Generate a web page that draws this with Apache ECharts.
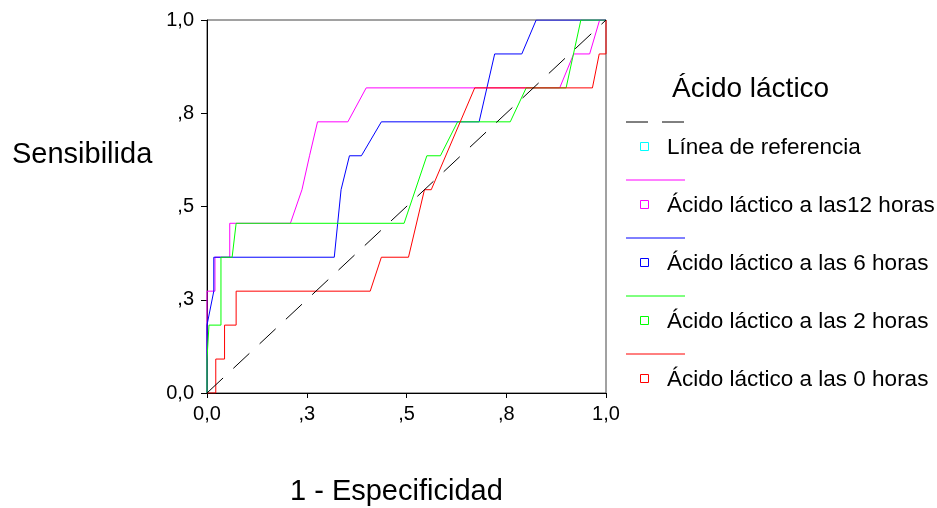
<!DOCTYPE html>
<html>
<head>
<meta charset="utf-8">
<title>Curva COR - Ácido láctico</title>
<script src="https://cdn.jsdelivr.net/npm/echarts@6/dist/echarts.min.js"></script>
<style>
  html, body { margin: 0; padding: 0; background: #fff; }
  #chart { width: 937px; height: 508px; }
</style>
</head>
<body>
<div id="chart"></div>
<script>
// etiquetas de los ejes (formato SPSS, 0,25 -> ",3")
const tickLabels = ['0,0', ',3', ',5', ',8', '1,0'];

// puntos de cada curva COR: x = 1 - especificidad, y = sensibilidad
const fpr12h = [0, 0, 0.02, 0.02, 0.057, 0.057, 0.209, 0.238, 0.257, 0.277, 0.353, 0.399, 0.884, 0.919, 0.959, 0.984, 1];
const tpr12h = [0, 0.273, 0.273, 0.364, 0.364, 0.455, 0.455, 0.545, 0.636, 0.727, 0.727, 0.818, 0.818, 0.909, 0.909, 1, 1];

const fpr6h = [0, 0, 0.017, 0.017, 0.319, 0.336, 0.357, 0.387, 0.437, 0.682, 0.721, 0.789, 0.825, 1];
const tpr6h = [0, 0.182, 0.273, 0.364, 0.364, 0.545, 0.636, 0.636, 0.727, 0.727, 0.909, 0.909, 1, 1];

const fpr2h = [0, 0, 0.005, 0.005, 0.035, 0.035, 0.063, 0.073, 0.494, 0.551, 0.585, 0.628, 0.760, 0.800, 0.900, 0.937, 1];
const tpr2h = [0, 0.091, 0.091, 0.182, 0.182, 0.364, 0.364, 0.455, 0.455, 0.636, 0.636, 0.727, 0.727, 0.818, 0.818, 1, 1];

const fpr0h = [0, 0.022, 0.022, 0.044, 0.044, 0.073, 0.073, 0.409, 0.437, 0.505, 0.545, 0.562, 0.671, 0.966, 0.983, 1, 1];
const tpr0h = [0, 0, 0.091, 0.091, 0.182, 0.182, 0.273, 0.273, 0.364, 0.364, 0.545, 0.545, 0.818, 0.818, 0.909, 0.909, 1];

// diagonal de referencia
const fprRef = [0, 1];
const tprRef = [0, 1];

const seriesNames = ['Línea de referencia', 'Ácido láctico a las12 horas', 'Ácido láctico a las 6 horas', 'Ácido láctico a las 2 horas', 'Ácido láctico a las 0 horas'];
const lineColors = ['#000000', '#ff00ff', '#0000ff', '#00ff00', '#ff0000'];
const markerColors = ['#00ffff', '#ff00ff', '#0000ff', '#00ff00', '#ff0000'];

const FONT = "'Liberation Sans', Arial, sans-serif";

function zip(xs, ys) {
  return xs.map((x, i) => [x, ys[i]]);
}

const curves = [
  zip(fprRef, tprRef),
  zip(fpr12h, tpr12h),
  zip(fpr6h, tpr6h),
  zip(fpr2h, tpr2h),
  zip(fpr0h, tpr0h)
];

const chart = echarts.init(document.getElementById('chart'), null, { renderer: 'canvas' });

// leyenda dibujada a mano: muestra de línea arriba, cuadrito + texto debajo
const legendGraphics = [{
  type: 'text',
  left: 672,
  top: 75,
  style: { text: 'Ácido láctico', font: '28px ' + FONT, fill: '#000' }
}];
seriesNames.forEach((name, i) => {
  const ly = 122 + i * 58;
  const cy = ly + 24.5;
  legendGraphics.push({
    type: 'line',
    shape: { x1: 626, y1: ly, x2: 685, y2: ly },
    style: { stroke: lineColors[i], lineWidth: 1, lineDash: i === 0 ? [22, 14] : null }
  });
  legendGraphics.push({
    type: 'rect',
    shape: { x: 640.5, y: cy - 4, width: 8, height: 8 },
    style: { fill: null, stroke: markerColors[i], lineWidth: 1 }
  });
  legendGraphics.push({
    type: 'text',
    x: 667,
    y: cy + 1,
    style: { text: name, font: '22.5px ' + FONT, fill: '#000', verticalAlign: 'middle' }
  });
});

const axisCommon = {
  type: 'value',
  min: 0,
  max: 1,
  interval: 0.25,
  splitLine: { show: false },
  axisLine: { show: true, lineStyle: { color: '#000', width: 1 } },
  axisTick: { show: true, length: 6, lineStyle: { color: '#000' } },
  axisLabel: {
    color: '#000',
    fontSize: 20,
    fontFamily: FONT,
    formatter: v => tickLabels[Math.round(v / 0.25)]
  }
};

const option = {
  animation: false,
  backgroundColor: '#fff',
  grid: {
    left: 207,
    right: 331,
    top: 20,
    bottom: 115,
    show: true,
    borderColor: '#444',
    borderWidth: 1
  },
  xAxis: Object.assign({}, axisCommon, {
    axisTick: { show: true, length: 5, lineStyle: { color: '#000' } },
    axisLabel: Object.assign({}, axisCommon.axisLabel, { margin: 11 })
  }),
  yAxis: Object.assign({}, axisCommon, {
    axisLabel: Object.assign({}, axisCommon.axisLabel, { margin: 13 })
  }),
  graphic: [
    {
      type: 'text',
      left: 12,
      top: 140,
      style: { text: 'Sensibilida', font: '29px ' + FONT, fill: '#000' }
    },
    {
      type: 'text',
      left: 290,
      top: 477,
      style: { text: '1 - Especificidad', font: '29px ' + FONT, fill: '#000' }
    }
  ].concat(legendGraphics),
  series: curves.map((data, i) => ({
    name: seriesNames[i],
    type: 'line',
    data: data,
    showSymbol: false,
    silent: true,
    z: i === 0 ? 5 : 2 + i * 0.1,
    lineStyle: {
      color: lineColors[i],
      width: 1,
      type: i === 0 ? [22, 14] : 'solid'
    }
  }))
};

chart.setOption(option);
window.addEventListener('resize', () => chart.resize());
</script>
</body>
</html>
